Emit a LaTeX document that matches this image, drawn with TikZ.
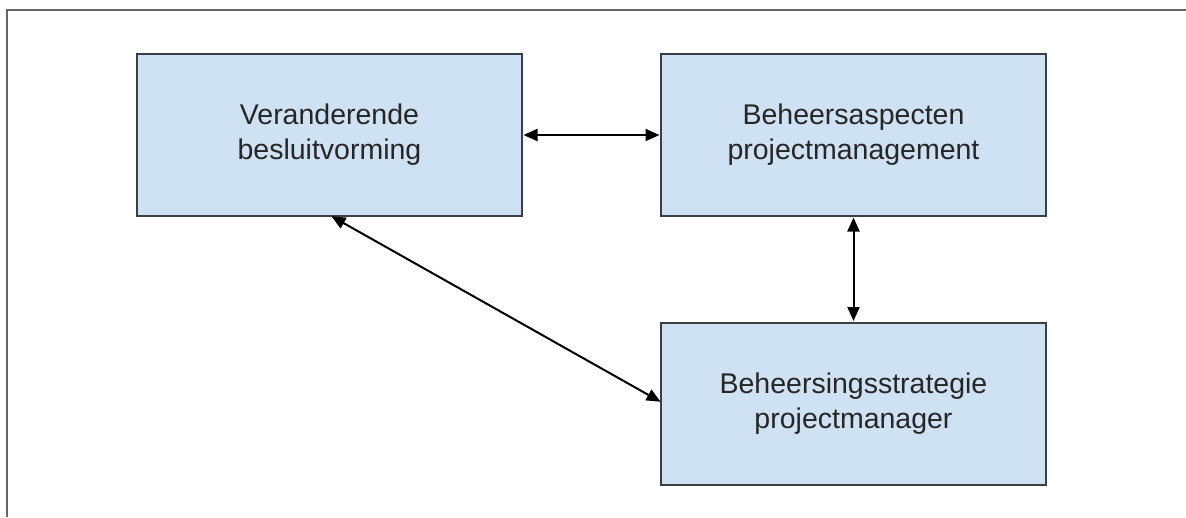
\documentclass[tikz,border=0pt]{standalone}
\usepackage{fontspec}
\setmainfont{Liberation Sans}
\usetikzlibrary{arrows.meta}
\definecolor{boxfill}{HTML}{CFE2F3}
\definecolor{boxline}{HTML}{3A3F45}
\definecolor{frameline}{HTML}{666666}
\tikzset{
  block/.style={draw=boxline, line width=2pt, fill=boxfill, minimum width=385pt, minimum height=162pt,
    inner sep=0pt, align=center, font=\fontsize{28.5}{35}\selectfont, text=black!85},
  link/.style={line width=2pt, black, {Triangle[length=14pt,width=12pt]}-{Triangle[length=14pt,width=12pt]}, shorten <=0.5pt, shorten >=0.5pt}
}
\begin{document}
\begin{tikzpicture}[x=1pt,y=-1pt]
\useasboundingbox (0,0) rectangle (1186,517);
\draw[frameline, line width=2.2pt] (7,517) -- (7,10) -- (1186,10);
\node[block] (a) at (329.5,135) {Veranderende\\besluitvorming};
\node[block] (b) at (853.5,135) {Beheersaspecten\\projectmanagement};
\node[block] (c) at (853.5,403.5) {Beheersingsstrategie\\projectmanager};
\draw[link] (a.east) -- (b.west);
\draw[link] (b.south) -- (c.south |- c.north);
\draw[link] (331,216) -- (661,402);
\end{tikzpicture}
\end{document}
